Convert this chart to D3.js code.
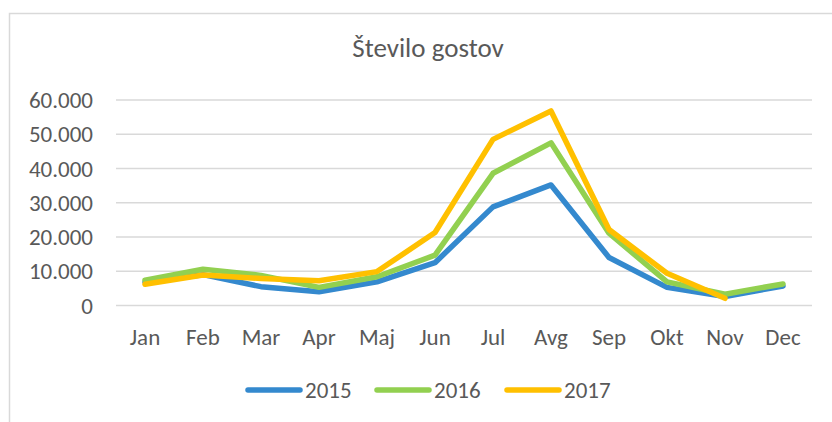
<!DOCTYPE html>
<html>
<head>
<meta charset="utf-8">
<script src="https://cdn.jsdelivr.net/npm/d3@7"></script>
<style>
  body { margin: 0; background: #fff; }
  text { font-family: Carlito, "Open Sans", sans-serif; fill: #595959; }
</style>
</head>
<body>
<svg width="832" height="422"></svg>
<script>
const width = 832;
const height = 422;

// months on the x axis
const months = ["Jan", "Feb", "Mar", "Apr", "Maj", "Jun", "Jul", "Avg", "Sep", "Okt", "Nov", "Dec"];
const years = ["2015", "2016", "2017"];

// guests per month
const guests2015 = [6800, 9000, 5500, 4000, 6900, 12500, 28800, 35200, 14000, 5300, 2600, 5700];
const guests2016 = [7400, 10600, 8800, 5300, 8400, 14700, 38600, 47500, 21100, 6900, 3300, 6300];
const guests2017 = [6200, 8900, 7900, 7200, 9900, 21300, 48500, 56800, 22200, 9400, 2100, null];

const yTicks = [0, 10000, 20000, 30000, 40000, 50000, 60000];

const series = [
  { name: years[0], values: guests2015, color: "#3489CE" },
  { name: years[1], values: guests2016, color: "#92D050" },
  { name: years[2], values: guests2017, color: "#FFC000" }
];

const svg = d3.select('svg');

// chart frame (runs past the window on the right and bottom)
svg.append("rect")
  .attr("x", 9.5).attr("y", 13.5)
  .attr("width", 840).attr("height", 430)
  .style("fill", "none")
  .style("stroke", "#d9d9d9")
  .style("stroke-width", 1.5);

const x = d3.scalePoint()
  .domain(months)
  .range([116, 812])
  .padding(0.5);

const y = d3.scaleLinear()
  .domain([0, 60000])
  .range([305.5, 100]);

// thousands with a dot, like the original
const fmt = v => v === 0 ? "0" : d3.format(",")(v).replace(/,/g, ".");

// title
svg.append("text")
  .attr("x", 428)
  .attr("y", 57)
  .attr("text-anchor", "middle")
  .style("font-size", "27px")
  .style("font-weight", 300)
  .text("Število gostov");

// gridlines
svg.selectAll("line.grid")
  .data(yTicks)
  .enter().append("line")
  .attr("class", "grid")
  .attr("x1", 116)
  .attr("x2", 812)
  .attr("y1", d => y(d))
  .attr("y2", d => y(d))
  .style("stroke", "#d9d9d9")
  .style("stroke-width", 1.5);

// y labels
svg.selectAll("text.ylab")
  .data(yTicks)
  .enter().append("text")
  .attr("class", "ylab")
  .attr("x", 93)
  .attr("y", d => y(d) + 8)
  .attr("text-anchor", "end")
  .style("font-size", "23px")
  .text(fmt);

// x labels
svg.selectAll("text.xlab")
  .data(months)
  .enter().append("text")
  .attr("class", "xlab")
  .attr("x", d => x(d))
  .attr("y", 345)
  .attr("text-anchor", "middle")
  .style("font-size", "23px")
  .text(d => d);

// lines
const line = d3.line()
  .defined(d => d.v != null)
  .x(d => x(d.m))
  .y(d => y(d.v));

svg.selectAll("path.series")
  .data(series)
  .enter().append("path")
  .attr("class", "series")
  .attr("d", s => line(s.values.map((v, i) => ({ m: months[i], v: v }))))
  .style("fill", "none")
  .style("stroke", s => s.color)
  .style("stroke-width", 5.5)
  .style("stroke-linejoin", "round")
  .style("stroke-linecap", "round");

// legend
const legendX = [248, 377, 507];
const legend = svg.selectAll("g.legend")
  .data(series)
  .enter().append("g")
  .attr("class", "legend")
  .attr("transform", (d, i) => `translate(${legendX[i]},390)`);

legend.append("line")
  .attr("x1", 0).attr("x2", 52)
  .attr("y1", 0).attr("y2", 0)
  .style("stroke", d => d.color)
  .style("stroke-width", 5.5)
  .style("stroke-linecap", "round");

legend.append("text")
  .attr("x", 57)
  .attr("y", 8)
  .style("font-size", "23px")
  .text(d => d.name);
</script>
</body>
</html>
